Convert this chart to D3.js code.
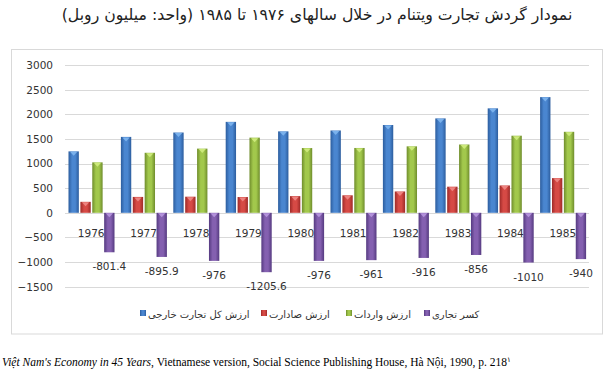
<!DOCTYPE html>
<html><head><meta charset="utf-8">
<script src="https://cdn.jsdelivr.net/npm/d3@7"></script>
<style>
html,body{margin:0;padding:0;background:#fff;}
svg{display:block;}
</style></head>
<body>
<svg id="chart" width="609" height="378"></svg>
<script>
const years = ["1976","1977","1978","1979","1980","1981","1982","1983","1984","1985"];
const totalTrade = [1246.8, 1540.7, 1629.6, 1845.8, 1652.8, 1671, 1782, 1916, 2120, 2348];
const exportsVal = [222.7, 322.4, 326.8, 320.1, 338.4, 355, 433, 530, 555, 704];
const importsVal = [1024.1, 1218.3, 1302.8, 1525.7, 1314.4, 1316, 1349, 1386, 1565, 1644];
const deficit = [-801.4, -895.9, -976, -1205.6, -976, -961, -916, -856, -1010, -940];
const deficitLabels = ["-801.4","-895.9","-976","-1205.6","-976","-961","-916","-856","-1010","-940"];
const seriesNames = ["ارزش کل تجارت خارجی","ارزش صادارت","ارزش واردات","کسر تجاری"];
const yTicks = [-1500,-1000,-500,0,500,1000,1500,2000,2500,3000];
const titleText = "نمودار گردش تجارت ویتنام در خلال سالهای ۱۹۷۶ تا ۱۹۸۵ (واحد: میلیون روبل)";

const seriesValues = [totalTrade, exportsVal, importsVal, deficit];
const colors = [
  {edge:"#2c5d9e", mid:"#4a86d0", tip:"#7fb6ee"},
  {edge:"#9e2a28", mid:"#d64a45", tip:"#f08a86"},
  {edge:"#6f8d2c", mid:"#a2c84c", tip:"#d0ec80"},
  {edge:"#553a80", mid:"#8460b0", tip:"#b898e0"}
];

const svg = d3.select("#chart");
const defs = svg.append("defs");
colors.forEach((c,i)=>{
  const g = defs.append("linearGradient").attr("id","g"+i).attr("x1","0").attr("x2","1").attr("y1","0").attr("y2","0");
  g.append("stop").attr("offset","0%").attr("stop-color",c.edge);
  g.append("stop").attr("offset","35%").attr("stop-color",c.mid);
  g.append("stop").attr("offset","65%").attr("stop-color",c.mid);
  g.append("stop").attr("offset","100%").attr("stop-color",c.edge);
});

// title (sized to span the same width as the reference)
const title = svg.append("text").attr("x",317).attr("y",20).attr("text-anchor","middle")
  .attr("font-family","DejaVu Sans").attr("font-size",14.5).attr("fill","#222")
  .attr("direction","rtl").text(titleText);
const tw = title.node().getComputedTextLength();
if (tw > 0) title.attr("font-size", Math.min(17, 14.5 * 511 / tw));

// chart border
svg.append("rect").attr("x",11.5).attr("y",49.5).attr("width",591).attr("height",284.5)
  .attr("fill","none").attr("stroke","#d9d9d9").attr("stroke-width",1);

const x = d3.scaleBand().domain(years).range([65,589]).padding(0);
const xi = d3.scaleBand().domain(d3.range(4)).range([3.5,49.5]).paddingInner(0.13);
const y = d3.scaleLinear().domain([-1500,3000]).range([286.7,65]);

// gridlines
svg.append("g").selectAll("line").data(yTicks).join("line")
  .attr("x1",65).attr("x2",589)
  .attr("y1",d=>Math.round(y(d))+0.5).attr("y2",d=>Math.round(y(d))+0.5)
  .attr("stroke","#d9d9d9").attr("stroke-width",1);

// y axis
const yAxis = d3.axisLeft(y).tickValues(yTicks).tickFormat(d3.format("d")).tickSize(0).tickPadding(0);
const ya = svg.append("g").attr("transform","translate(53,0)").call(yAxis);
ya.select(".domain").remove();
ya.selectAll("text").attr("font-family","DejaVu Sans").attr("font-size",10.5).attr("fill","#333");

// bars
const groups = svg.append("g").selectAll("g").data(years).join("g")
  .attr("transform",d=>`translate(${x(d)},0)`);
seriesValues.forEach((vals,si)=>{
  groups.each(function(d,i){
    const v = vals[i];
    const g = d3.select(this);
    const bx = xi(si), bw = xi.bandwidth();
    const y0 = y(0), y1 = y(v);
    g.append("rect").attr("x",bx).attr("width",bw)
      .attr("y",Math.min(y0,y1)).attr("height",Math.abs(y1-y0))
      .attr("fill",`url(#g${si})`);
    const ty = v>=0 ? y1 : y0;
    g.append("path")
      .attr("d",`M${bx+1.5},${ty+0.5} L${bx+bw-1.5},${ty+0.5} L${bx+bw/2},${ty+4.5} Z`)
      .attr("fill",colors[si].tip).attr("opacity",0.9);
  });
});

// category labels
svg.append("g").selectAll("text").data(years).join("text")
  .attr("x",d=>x(d)+x.bandwidth()/2).attr("y",237)
  .attr("text-anchor","middle").attr("font-family","DejaVu Sans").attr("font-size",10.5)
  .attr("fill","#333").text(d=>d);

// deficit labels
svg.append("g").selectAll("text").data(years).join("text")
  .attr("x",(d,i)=>x(d)+xi(3)+xi.bandwidth()/2)
  .attr("y",(d,i)=>y(deficit[i])+18)
  .attr("text-anchor","middle").attr("font-family","DejaVu Sans").attr("font-size",10.5)
  .attr("fill","#333").text((d,i)=>deficitLabels[i]);

// legend
const legendPos = [140,261,346,424];
const lg = svg.append("g");
seriesNames.forEach((n,i)=>{
  lg.append("rect").attr("x",legendPos[i]).attr("y",310).attr("width",6).attr("height",6)
    .attr("fill",`url(#g${i})`);
  lg.append("text").attr("x",legendPos[i]+8).attr("y",317.5)
    .attr("font-family","DejaVu Sans").attr("font-size",10).attr("fill","#333")
    .attr("text-anchor","start").attr("direction","ltr").text(n);
});

// footnote
const fn = svg.append("text").attr("x",2).attr("y",366)
  .attr("font-family","Liberation Serif").attr("font-size",11.5).attr("fill","#000");
fn.append("tspan").attr("font-style","italic").text("Việt Nam's Economy in 45 Years");
fn.append("tspan").text(", Vietnamese version, Social Science Publishing House, Hà Nội, 1990, p. 218");
fn.append("tspan").attr("font-size",7).attr("dy",-4).text("۱");
</script>
</body></html>
